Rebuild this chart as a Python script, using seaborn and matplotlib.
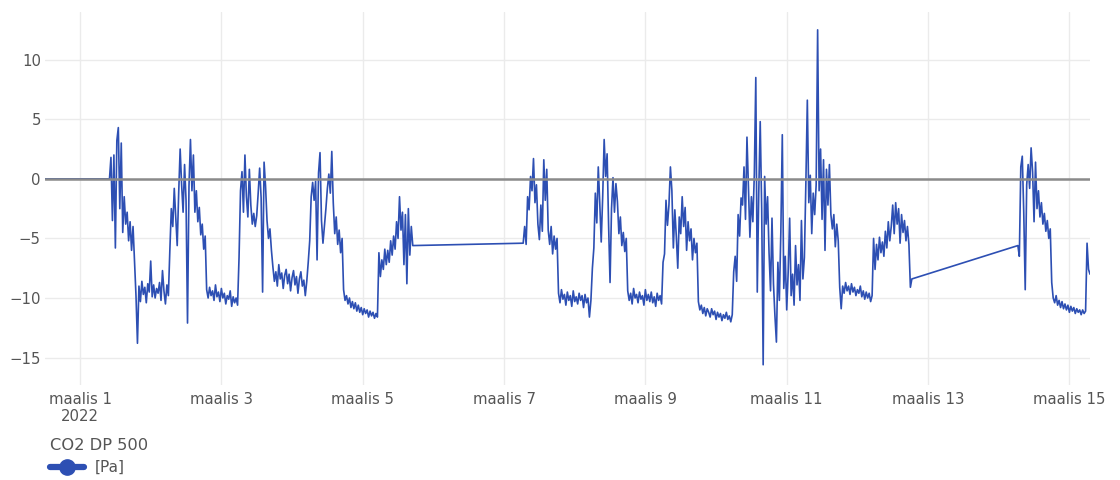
import numpy as np
import pandas as pd
import matplotlib
matplotlib.use("Agg")
import matplotlib.pyplot as plt
from matplotlib.lines import Line2D
import seaborn as sns

# ---------------- data ----------------
series_name = "CO2 DP 500"
unit_label = "[Pa]"
base_date = "2022-03-01"
step_h = 0.5  # spacing of the recorded samples inside each run (hours)

# flat start (hours from 1 March 00:00)
flat_hours = [-11.9]
flat_values = [0.0]

# run 1: starts 1 March 10:00
run1_start_h = 10.0
run1_values = [
    0.0,
    1.8, -3.5, 2.0, -5.8, 3.2, 4.3, -2.5, 3.0, -4.5, -1.5, -3.8, -2.8, -5.2, -3.6, -6.0, -4.0,
    -7.0, -9.8, -13.8, -9.0, -10.3, -8.6, -9.7, -9.1, -10.4, -8.8, -9.5, -6.9, -9.9, -8.9, -10.0,
    -9.2, -9.6, -8.7, -10.2, -7.7, -9.4, -10.5, -8.9, -9.8,
    -6.0, -2.5, -4.0, -0.8, -3.2, -5.6, -1.2, 2.5, -0.5, -2.8, 1.2, -1.8, -12.1, -0.6, 3.3, -1.0,
    2.0, -2.8, -1.0, -3.6, -2.4, -4.7, -3.8, -5.9, -4.8,
    -9.3, -10.0, -9.1, -9.8, -9.4, -10.2, -8.9, -9.9, -9.5, -10.3, -9.2, -10.0, -9.6, -10.5, -9.8,
    -10.1, -9.4, -10.7, -9.9, -10.4, -10.0, -10.6,
    -6.6, -1.0, 0.6, -2.8, 2.0, -1.5, -3.2, 0.8, -2.2, -3.8, -2.9, -4.0, -3.1, -1.2, 0.9, -1.6,
    -9.5, 1.4, -0.6, -3.5, -5.0, -4.2, -6.0,
    -7.4, -8.6, -7.8, -9.0, -7.2, -8.4, -7.9, -9.2, -8.1, -7.6, -8.8, -8.0, -9.4, -8.3, -7.7, -8.9,
    -8.2, -9.6, -8.4, -7.8, -9.0, -8.5, -9.8, -8.6, -7.0,
    -5.2, -1.5, -0.3, -1.8, -0.2, -6.8, 0.5, 2.2, -3.5, -5.4, -4.0, -2.5, -0.8, 0.4, -1.2, 2.3,
    -2.0, -4.6, -3.2, -5.5, -4.3, -6.2, -5.0,
    -9.3, -10.2, -9.8, -10.5, -10.0, -10.8, -10.3, -10.9, -10.4, -11.1, -10.6, -11.2, -10.8,
    -11.4, -10.9, -11.3, -11.0, -11.6, -11.1, -11.5, -11.2, -11.7, -11.3, -11.6,
    -6.2, -8.2, -6.8, -7.6, -5.9, -7.2, -6.0, -7.0, -5.2, -6.4, -4.8, -5.9, -3.6, -5.0, -1.5,
    -4.3, -2.8, -7.2, -3.0, -8.8, -2.5, -6.4, -4.0, -5.6,
]

# run 2: starts after the first gap
run2_start_h = 150.5
run2_values = [
    -5.4, -4.0, -5.5, -1.5, -2.6, 0.2, -1.0, 1.7, -2.0, -0.5, -3.8, -5.1, -2.2, -4.4, 1.6, -1.8,
    0.8, -4.3, -5.5, -4.0, -6.3, -4.8, -5.9, -5.0,
    -9.6, -10.4, -9.3, -10.1, -9.7, -10.6, -9.5, -10.2, -9.8, -10.7, -9.4, -10.3, -9.9, -10.5,
    -9.6, -10.2, -9.8, -10.8, -9.7, -10.4, -10.0, -11.6, -10.2, -7.5,
    -5.8, -1.2, -3.7, 1.0, -2.0, -5.3, -1.5, 3.3, 0.2, 2.1, -3.8, -8.7, -2.5, 0.1, -2.8, -0.4,
    -1.9, -4.6, -3.2, -5.6, -4.5, -6.1, -5.0,
    -9.4, -10.2, -9.6, -10.5, -9.2, -10.0, -9.7, -10.4, -9.5, -10.1, -9.8, -10.6, -9.3, -10.2,
    -9.7, -10.3, -9.5, -10.4, -9.9, -10.7, -9.6, -10.2, -9.8, -10.5,
    -7.0, -6.3, -1.8, -3.9, -2.2, 1.0, -1.0, -5.8, -2.6, -4.8, -7.5, -3.2, -4.6, -1.5, -4.0,
    -2.4, -6.0, -3.6, -5.2, -4.2, -6.8, -5.0, -6.2, -5.4,
    -10.3, -11.0, -10.6, -11.3, -10.8, -11.5, -10.9, -11.2, -11.6, -10.9, -11.4, -11.1, -11.8,
    -11.2, -11.6, -11.3, -11.9, -11.4, -11.7, -11.2, -11.8, -11.5, -12.0, -11.4,
    -7.8, -6.5, -8.6, -3.0, -4.8, -1.6, -2.2, 1.0, -3.4, 3.5, -0.8, -4.9, -1.5, -3.6, 0.4, 8.5,
    -9.5, -1.2, 4.8, -2.5, -15.6, 0.2, -3.8, -1.5, -6.2, -9.4, -3.3, -8.8, -11.5, -13.7, -7.0,
    -10.2, -4.5, 3.7, -9.2, -6.5, -11.0, -7.8, -3.3, -9.8, -8.0, -10.6, -5.6, -8.9, -7.2, -10.2,
    -3.5, -8.4, -6.6, -0.4, 6.6, -2.0, 0.3, -4.6, -1.2, -3.0, -0.5, 12.5, -1.0, 2.5, -3.4, 1.6,
    -6.0, 0.8, -2.2, 1.2, -3.0, -4.2, -3.0, -5.7, -3.8, -5.2,
    -9.1, -10.9, -9.0, -9.6, -8.7, -9.4, -9.0, -9.7, -8.8, -9.5, -9.1, -9.8, -9.3, -9.6, -9.0,
    -9.9, -9.4, -10.1, -9.5, -10.0, -9.6, -10.3, -9.8,
    -5.0, -7.6, -5.5, -6.8, -4.9, -6.2, -5.3, -6.5, -4.4, -5.8, -3.6, -5.2, -4.0, -2.2, -4.6,
    -2.0, -3.8, -2.5, -5.4, -3.0, -4.5, -3.5, -5.2, -4.0, -5.5, -9.1, -8.4,
]

# run 3: starts after the second gap
run3_start_h = 318.5
run3_values = [
    -5.6, -6.5, 1.0, 1.9, -2.8, -9.3, -0.5, 1.2, -0.8, 2.6, 0.6, -3.6, 1.4, -2.5, -1.0, -3.2,
    -2.0, -3.8, -2.9, -4.4, -3.5, -5.0, -4.2, -8.7,
    -10.0, -10.4, -9.8, -10.6, -10.2, -10.8, -10.3, -10.9, -10.5, -11.0, -10.6, -11.2, -10.7,
    -11.1, -10.8, -11.3, -10.9, -11.2, -11.0, -11.4, -11.0, -11.3, -11.1,
    -5.4, -7.6, -8.0,
]

tick_days = [1, 3, 5, 7, 9, 11, 13, 15]
tick_labels = ["maalis 1\n2022", "maalis 3", "maalis 5", "maalis 7",
               "maalis 9", "maalis 11", "maalis 13", "maalis 15"]
y_ticks = [-15, -10, -5, 0, 5, 10]

# ---------------- build frame ----------------
hours = list(flat_hours)
vals = list(flat_values)
for start, run in [(run1_start_h, run1_values), (run2_start_h, run2_values),
                   (run3_start_h, run3_values)]:
    hours += [start + i * step_h for i in range(len(run))]
    vals += list(run)

base = pd.Timestamp(base_date)
df = pd.DataFrame({"time": base + pd.to_timedelta(hours, unit="h"), "value": vals})

# ---------------- plot ----------------
sns.set_theme(style="white")
plt.rcParams["font.family"] = ["DejaVu Sans"]

W, H = 1120, 480
fig = plt.figure(figsize=(W / 100, H / 100), dpi=100)
ax_l, ax_r, ax_t, ax_b = 45, 1090, 12, 385
ax = fig.add_axes([ax_l / W, 1 - ax_b / H, (ax_r - ax_l) / W, (ax_b - ax_t) / H])

line_color = "#2d4fb3"
sns.lineplot(data=df, x="time", y="value", ax=ax, color=line_color, linewidth=1.2,
             estimator=None, sort=False, legend=False)

ax.axhline(0, color="#8a8a8a", linewidth=1.8, zorder=3)
ax.set_xlim(df["time"].iloc[0], df["time"].iloc[-1])
ax.set_ylim(-17.3, 14.0)

ax.set_xticks([base + pd.Timedelta(days=d - 1) for d in tick_days])
ax.set_xticklabels(tick_labels)
ax.set_yticks(y_ticks)
ax.grid(True, color="#ebebeb", linewidth=1.0)
ax.set_axisbelow(True)
for s in ax.spines.values():
    s.set_visible(False)
ax.tick_params(axis="both", length=0, labelsize=10.7, colors="#555555")
ax.tick_params(axis="y", pad=3)
ax.tick_params(axis="x", pad=5)
ax.set_xlabel("")
ax.set_ylabel("")

handle = Line2D([0], [0], color=line_color, linewidth=4.5, marker="o", markersize=11,
                markerfacecolor=line_color, markeredgecolor=line_color)
leg = fig.legend([handle], [unit_label], title=series_name, loc="upper left",
                 bbox_to_anchor=(50 / W, 1 - 438 / H), frameon=False, fontsize=11,
                 title_fontsize=11.7, handlelength=2.2, handletextpad=0.7,
                 borderaxespad=0, borderpad=0, labelspacing=0.2)
leg._legend_box.align = "left"
leg._legend_box.sep = 5
for t in leg.get_texts():
    t.set_color("#555555")
leg.get_title().set_color("#555555")

fig.savefig("out.png", dpi=100)
print(len(run1_values), len(run2_values), len(run3_values))
